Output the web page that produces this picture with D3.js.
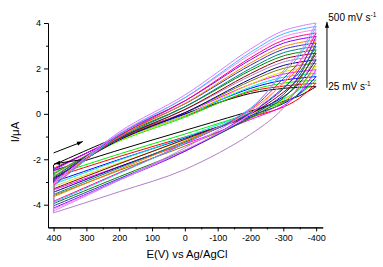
<!DOCTYPE html>
<html><head><meta charset="utf-8">
<script src="https://cdn.jsdelivr.net/npm/d3@7"></script>
<style>
body{margin:0;background:#fff}
svg{display:block}
text{font-family:"Liberation Sans",Arial,sans-serif;fill:#000}
</style>
</head><body>
<svg id="chart" width="383" height="267"></svg>
<script>
// ---- data ----
const scanRates = [25,50,75,100,125,150,175,200,225,250,275,300,325,350,375,400,425,450,475,500];
const upperE = [400,200,0,-200,-300,-400];          // forward sweep potentials (mV)
const lowerE = [-400,-350,-300,-200,0,200,400];     // reverse sweep potentials (mV)
const upperI = [
 [-2.25,-1.00, 0.00,0.90,1.12,1.20],
 [-2.40,-1.10,-0.10,0.98,1.22,1.35],
 [-2.60,-1.20,-0.15,1.03,1.35,1.49],
 [-2.45,-1.06,-0.02,1.12,1.48,1.64],
 [-2.65,-1.16,-0.08,1.18,1.61,1.79],
 [-2.50,-1.02, 0.05,1.30,1.75,1.94],
 [-2.75,-1.18,-0.07,1.30,1.85,2.08],
 [-2.65,-1.07, 0.05,1.44,2.00,2.23],
 [-2.85,-1.15, 0.05,1.53,2.13,2.38],
 [-2.75,-1.04, 0.18,1.67,2.28,2.53],
 [-2.90,-1.09, 0.19,1.77,2.41,2.67],
 [-2.80,-0.98, 0.31,1.91,2.55,2.82],
 [-3.00,-1.06, 0.31,2.00,2.69,2.97],
 [-2.90,-0.95, 0.44,2.14,2.84,3.12],
 [-3.05,-1.00, 0.45,2.24,2.96,3.26],
 [-2.95,-0.89, 0.57,2.38,3.11,3.41],
 [-3.15,-0.97, 0.57,2.47,3.24,3.56],
 [-3.05,-0.86, 0.70,2.61,3.39,3.71],
 [-3.20,-0.91, 0.71,2.71,3.52,3.85],
 [-3.10,-0.80, 0.83,2.85,3.66,4.00]
];
const lowerI = [
 [1.20,0.80, 0.55, 0.12,-0.73,-1.59,-2.50],
 [1.35,0.70, 0.30,-0.15,-1.02,-1.88,-2.80],
 [1.49,0.88, 0.50, 0.03,-0.89,-1.77,-2.70],
 [1.64,0.90, 0.45,-0.08,-1.07,-2.01,-3.00],
 [1.79,1.08, 0.65, 0.06,-1.03,-2.04,-3.10],
 [1.94,0.95, 0.35,-0.25,-1.33,-2.32,-3.35],
 [2.08,1.16, 0.60,-0.03,-1.15,-2.16,-3.20],
 [2.23,1.16, 0.50,-0.19,-1.42,-2.49,-3.60],
 [2.38,1.37, 0.75, 0.02,-1.25,-2.33,-3.45],
 [2.53,1.30, 0.25,-0.90,-2.45,-3.43,-4.36],
 [2.67,1.60, 0.95, 0.00,-1.12,-2.20,-3.30],
 [2.82,1.51, 0.70,-0.17,-1.60,-2.77,-3.95],
 [2.97,1.84, 1.15, 0.05,-1.21,-2.38,-3.55],
 [3.12,1.71, 0.85,-0.11,-1.64,-2.85,-4.05],
 [3.26,2.08, 1.35, 0.15,-1.23,-2.45,-3.65],
 [3.41,1.98, 1.10, 0.03,-1.65,-2.91,-4.15],
 [3.56,2.31, 1.55, 0.20,-1.31,-2.59,-3.85],
 [3.71,2.28, 1.40, 0.00,-1.60,-2.92,-4.20],
 [3.85,2.58, 1.80, 0.25,-1.30,-2.62,-3.90],
 [4.00,2.70, 1.90, 0.20,-1.50,-2.92,-4.28]
];
const colors = ["#000000","#ff0000","#00ee00","#0000ff","#00e8e8","#ff00ff","#e0e000","#808000",
  "#000080","#b080c8","#800000","#008000","#008080","#3030c0","#ff8000","#8000ff",
  "#ff0080","#ff80ff","#40b8ff","#d080ff"];
const xTicks = [400,300,200,100,0,-100,-200,-300,-400];
const xMinor = [350,250,150,50,-50,-150,-250,-350];
const yTicks = [4,2,0,-2,-4];
const yMinor = [3,1,-1,-3];
const rateLabels = ["500 mV s","25 mV s"];

// ---- layout ----
const svg = d3.select("#chart");
const x = d3.scaleLinear().domain([417,-420]).range([48,322.7]);
const y = d3.scaleLinear().domain([-5,4]).range([227.4,23]);

// curves
const line = d3.line().x(d=>x(d[0])).y(d=>y(d[1])).curve(d3.curveCatmullRom.alpha(0.5));
const gC = svg.append("g");
scanRates.forEach((r,k)=>{
  const up = upperE.map((e,i)=>[e,upperI[k][i]]);
  const lo = lowerE.map((e,i)=>[e,lowerI[k][i]]);
  const d = line(up) + line(lo).replace(/^M/,"L") + "Z";
  gC.append("path").attr("d",d).attr("fill","none")
    .attr("stroke",colors[k]).attr("stroke-width",1);
});

// axes
const fmt = d=>String(d);
function styleAxis(g){
  g.selectAll("path,line").attr("stroke","#000").attr("stroke-width",1);
  g.selectAll("text").style("font-family","'Liberation Sans',Arial,sans-serif").style("font-size","9px").attr("fill","#000");
}
const gx = svg.append("g").attr("transform",`translate(0,${y(-5)})`)
  .call(d3.axisBottom(x).tickValues(xTicks).tickFormat(fmt).tickSize(4).tickSizeOuter(0).tickPadding(3));
styleAxis(gx);
const gxm = svg.append("g").attr("transform",`translate(0,${y(-5)})`)
  .call(d3.axisBottom(x).tickValues(xMinor).tickFormat("").tickSize(2).tickSizeOuter(0));
styleAxis(gxm);
const gy = svg.append("g").attr("transform",`translate(${x(417)},0)`)
  .call(d3.axisLeft(y).tickValues(yTicks).tickFormat(fmt).tickSize(4).tickSizeOuter(0).tickPadding(3));
styleAxis(gy);
const gym = svg.append("g").attr("transform",`translate(${x(417)},0)`)
  .call(d3.axisLeft(y).tickValues(yMinor).tickFormat("").tickSize(2).tickSizeOuter(0));
styleAxis(gym);

// axis titles
svg.append("text").attr("x",187).attr("y",258).attr("text-anchor","middle")
  .style("font-size","11.3px").text("E(V) vs Ag/AgCl");
svg.append("text").attr("transform","translate(18.5,132) rotate(-90)").attr("text-anchor","middle")
  .style("font-size","11.3px").text("I/μA");

// arrow marker
const defs = svg.append("defs");
defs.append("marker").attr("id","ah").attr("viewBox","0 0 10 10").attr("refX",10).attr("refY",5)
  .attr("markerWidth",6).attr("markerHeight",6).attr("markerUnits","userSpaceOnUse").attr("orient","auto")
  .append("path").attr("d","M0,1.5L10,5L0,8.5Z").attr("fill","#000");

// scan-rate arrow and labels
const scanArrow = [[-433,1.15],[-433,4.05]];
svg.append("line").attr("x1",x(scanArrow[0][0])).attr("y1",y(scanArrow[0][1]))
  .attr("x2",x(scanArrow[1][0])).attr("y2",y(scanArrow[1][1]))
  .attr("stroke","#000").attr("stroke-width",1).attr("marker-end","url(#ah)");
const lab = [[ -437, 4.1, rateLabels[0]], [-437, 1.05, rateLabels[1]]];
lab.forEach(l=>{
  const t = svg.append("text").attr("x",x(l[0])).attr("y",y(l[1])).style("font-size","10px");
  t.append("tspan").text(l[2]);
  t.append("tspan").attr("dy",-4).style("font-size","6.5px").text("-1");
});

// sweep-direction arrows
const sweepArrows = [ [[400,-1.72],[311,-1.22]], [[315,-2.02],[398,-2.2]] ];
sweepArrows.forEach(a=>{
  svg.append("line").attr("x1",x(a[0][0])).attr("y1",y(a[0][1]))
    .attr("x2",x(a[1][0])).attr("y2",y(a[1][1]))
    .attr("stroke","#000").attr("stroke-width",1).attr("marker-end","url(#ah)");
});
</script>
</body></html>
